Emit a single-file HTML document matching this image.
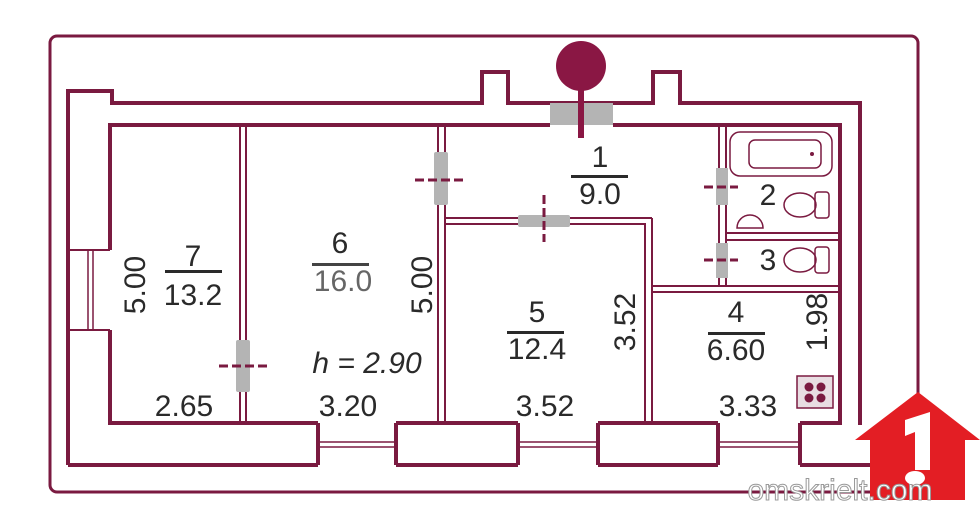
<!DOCTYPE html>
<html><head><meta charset="utf-8"><style>
html,body{margin:0;padding:0;background:#fff;width:980px;height:531px;overflow:hidden}
svg{display:block}
text{font-family:"Liberation Sans",sans-serif;fill:#2a2a2a}
</style></head><body>
<svg width="980" height="531" viewBox="0 0 980 531" xmlns="http://www.w3.org/2000/svg">
<g fill="none" stroke="#7a1a40">
<rect x="50" y="36" width="868" height="456" rx="7" stroke-width="3"/>
<path d="M68,465 L68,91 L112,91 L112,103 L482,103 L482,72 L508,72 L508,103 L653,103 L653,72 L680,72 L680,103 L860,103 L860,425" stroke-width="4"/>
<path d="M68,465 L318,465 M396,465 L518,465 M598,465 L718,465 M800,465 L870,465" stroke-width="4"/>
<path d="M110,250 L110,125 L550,125 M613,125 L840,125 L840,423 L800,423 M718,423 L598,423 M518,423 L396,423 M318,423 L110,423 L110,330" stroke-width="4"/>
<path d="M318,423 L318,465 M396,423 L396,465 M518,423 L518,465 M598,423 L598,465 M718,423 L718,465 M800,423 L800,465" stroke-width="4"/>
<path d="M68,250 L110,250 M68,330 L110,330" stroke-width="2"/>
<path d="M88,250 L88,330 M93,250 L93,330" stroke-width="1.5"/>
<path d="M318,442 L396,442 M318,447 L396,447 M518,442 L598,442 M518,447 L598,447 M718,442 L800,442 M718,447 L800,447" stroke-width="1.5"/>
<path d="M240,125 L240,423 M246,125 L246,423" stroke-width="2"/>
<path d="M438,125 L438,423 M445,125 L445,423" stroke-width="2"/>
<path d="M445,218 L652,218 M445,224 L645,224 L645,423 M652,218 L652,423" stroke-width="2"/>
<path d="M652,286 L840,286 M652,292 L840,292" stroke-width="2"/>
<path d="M719,125 L719,286 M726,125 L726,286" stroke-width="2"/>
<path d="M726,233 L840,233 M726,240 L840,240" stroke-width="2"/>
</g>
<g fill="#b4b4b4">
<rect x="550" y="103" width="63" height="22"/>
<rect x="236" y="340" width="14" height="52" rx="2"/>
<rect x="434" y="152" width="14" height="53" rx="2"/>
<rect x="518" y="215" width="52" height="12" rx="2"/>
<rect x="716" y="168" width="12" height="37"/>
<rect x="716" y="243" width="12" height="35"/>
</g>
<g stroke="#7a1a40" stroke-width="3" stroke-dasharray="9,4">
<path d="M219,366 L268,366"/>
<path d="M415,180 L465,180"/>
<path d="M544,195 L544,242"/>
<path d="M704,187 L738,187"/>
<path d="M704,260 L738,260"/>
</g>
<circle cx="581" cy="66" r="25" fill="#8a1744"/>
<rect x="578" y="80" width="6" height="58" fill="#8a1744"/>
<g fill="none" stroke="#7a1a40" stroke-width="1.5">
<rect x="730" y="132" width="102" height="44" rx="10"/>
<rect x="749" y="140" width="72" height="28" rx="6"/>
<ellipse cx="800" cy="205" rx="16" ry="12"/>
<rect x="815" y="192" width="14" height="26" rx="3"/>
<path d="M737,228 A13,13 0 0 1 763,228 Z"/>
<ellipse cx="800" cy="260" rx="16" ry="12"/>
<rect x="815" y="247" width="14" height="26" rx="3"/>
</g>
<circle cx="812" cy="154" r="2" fill="#7a1a40"/>
<rect x="797" y="376" width="36" height="32" fill="#e8dde2" stroke="#7a1a40" stroke-width="1.5"/>
<g fill="#7a1a40"><circle cx="809" cy="387" r="4.5"/><circle cx="821" cy="387" r="4.5"/><circle cx="809" cy="398" r="4.5"/><circle cx="821" cy="398" r="4.5"/></g>
<g font-size="30" text-anchor="middle">
<text x="193" y="266">7</text><rect x="165" y="270" width="57" height="3" fill="#2a2a2a"/><text x="193" y="305">13.2</text>
<text x="340" y="253">6</text><rect x="312" y="263" width="57" height="3" fill="#444"/><text x="343" y="291" style="fill:#666">16.0</text>
<text x="600" y="167">1</text><rect x="571" y="175" width="57" height="3" fill="#2a2a2a"/><text x="600" y="204">9.0</text>
<text x="537" y="322">5</text><rect x="507" y="331" width="57" height="3" fill="#2a2a2a"/><text x="537" y="359">12.4</text>
<text x="736" y="322">4</text><rect x="708" y="332" width="57" height="3" fill="#2a2a2a"/><text x="736" y="360">6.60</text>
<text x="768" y="205">2</text>
<text x="768" y="270">3</text>
<text x="184" y="416">2.65</text>
<text x="348" y="416">3.20</text>
<text x="545" y="416">3.52</text>
<text x="748" y="416">3.33</text>
<text x="367" y="373" font-style="italic">h = 2.90</text>
<text transform="translate(145,285) rotate(-90)">5.00</text>
<text transform="translate(432,285) rotate(-90)">5.00</text>
<text transform="translate(635,322) rotate(-90)">3.52</text>
<text transform="translate(827,322) rotate(-90)">1.98</text>
</g>
<path d="M918,392 L980,440 L965,440 L965,500 L870,500 L870,440 L855,440 Z" fill="#e31e24"/>
<path d="M905,420 L930,412 L930,470 L915,470 L915,432 L905,436 Z" fill="#fff"/>
<ellipse cx="915" cy="478" rx="10" ry="7" fill="#fff"/>
<text x="840" y="500" font-size="30" text-anchor="middle" style="fill:#fff;stroke:#999;stroke-width:1">omskrielt.com</text>
</svg>
</body></html>
